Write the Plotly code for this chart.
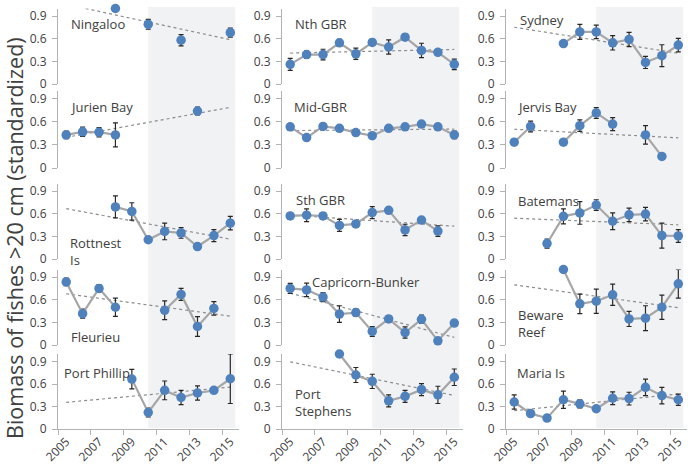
import numpy as np
import plotly.graph_objects as go

N = None
years = list(range(2005, 2016))
x_tick_labels = ["2005", "2007", "2009", "2011", "2013", "2015"]
y_tick_vals = [0, 0.3, 0.6, 0.9]
y_tick_labels = ["0", "0.3", "0.6", "0.9"]
y_title = "Biomass of fishes >20 cm (standardized)"
shade_start, shade_end = 2010, 2015.3

# ---- data (2005..2015), column by column ----
ningaloo = [N, N, N, 1.00, N, 0.79, N, 0.58, N, N, 0.68]
ningaloo_err = [0, 0, 0, 0, 0, 0.065, 0, 0.075, 0, 0, 0.06]
jurien = [0.43, 0.47, 0.465, 0.43, N, N, N, N, 0.74, N, N]
jurien_err = [0.05, 0.06, 0.06, 0.155, 0, 0, 0, 0, 0.05, 0, 0]
rottnest = [N, N, N, 0.69, 0.63, 0.255, 0.365, 0.345, 0.165, 0.31, 0.475]
rottnest_err = [0, 0, 0, 0.145, 0.115, 0.02, 0.11, 0.07, 0, 0.08, 0.09]
fleurieu = [0.835, 0.415, 0.75, 0.50, N, N, 0.46, 0.67, 0.245, 0.485, N]
fleurieu_err = [0.05, 0.06, 0.05, 0.12, 0, 0, 0.125, 0.08, 0.13, 0.09, 0]
port_phillip = [N, N, N, N, 0.665, 0.22, 0.515, 0.42, 0.48, 0.515, 0.67]
port_phillip_err = [0, 0, 0, 0, 0.13, 0.06, 0.125, 0.095, 0.095, 0, 0.33]

nth_gbr = [0.26, 0.39, 0.39, 0.545, 0.40, 0.55, 0.49, 0.62, 0.445, 0.42, 0.26]
nth_gbr_err = [0.08, 0.05, 0.07, 0.045, 0.075, 0.04, 0.095, 0.04, 0.095, 0.03, 0.07]
mid_gbr = [0.535, 0.395, 0.54, 0.515, 0.46, 0.42, 0.515, 0.535, 0.57, 0.535, 0.43]
mid_gbr_err = [0.035, 0.03, 0.03, 0.035, 0.03, 0.04, 0.03, 0.035, 0.035, 0.035, 0.05]
sth_gbr = [0.57, 0.58, 0.57, 0.445, 0.465, 0.615, 0.645, 0.385, 0.515, 0.37, N]
sth_gbr_err = [0.02, 0.085, 0.02, 0.08, 0.03, 0.08, 0.02, 0.075, 0.02, 0.07, 0]
capricorn = [0.75, 0.73, 0.635, 0.41, 0.43, 0.18, 0.345, 0.165, 0.34, 0.055, 0.29]
capricorn_err = [0.065, 0.09, 0.06, 0.11, 0.05, 0.065, 0.035, 0.075, 0.055, 0, 0.045]
port_stephens = [N, N, N, 1.00, 0.72, 0.635, 0.375, 0.435, 0.525, 0.455, 0.69]
port_stephens_err = [0, 0, 0, 0, 0.1, 0.095, 0.08, 0.08, 0.08, 0.115, 0.11]

sydney = [N, N, N, 0.535, 0.69, 0.69, 0.545, 0.59, 0.285, 0.375, 0.515]
sydney_err = [0, 0, 0, 0.02, 0.1, 0.09, 0.095, 0.095, 0.08, 0.145, 0.09]
jervis = [0.335, 0.54, N, 0.335, 0.55, 0.715, 0.57, N, 0.43, 0.15, N]
jervis_err = [0.04, 0.07, 0, 0.04, 0.075, 0.07, 0.085, 0, 0.12, 0, 0]
batemans = [N, N, 0.205, 0.565, 0.61, 0.715, 0.50, 0.585, 0.595, 0.31, 0.305]
batemans_err = [0, 0, 0.06, 0.1, 0.15, 0.07, 0.11, 0.09, 0.09, 0.165, 0.085]
beware = [N, N, N, 1.00, 0.545, 0.58, 0.665, 0.345, 0.355, 0.50, 0.81]
beware_err = [0, 0, 0, 0, 0.13, 0.16, 0.14, 0.10, 0.165, 0.16, 0.19]
maria = [0.36, 0.205, 0.145, 0.39, 0.335, 0.27, 0.41, 0.405, 0.555, 0.445, 0.39]
maria_err = [0.095, 0.03, 0, 0.115, 0.055, 0, 0.085, 0.085, 0.11, 0.11, 0.075]

# panels in row-major order: (label, values, errors)
panels = [
    ("Ningaloo", ningaloo, ningaloo_err), ("Nth GBR", nth_gbr, nth_gbr_err), ("Sydney", sydney, sydney_err),
    ("Jurien Bay", jurien, jurien_err), ("Mid-GBR", mid_gbr, mid_gbr_err), ("Jervis Bay", jervis, jervis_err),
    ("Rottnest<br>Is", rottnest, rottnest_err), ("Sth GBR", sth_gbr, sth_gbr_err), ("Batemans", batemans, batemans_err),
    ("Fleurieu", fleurieu, fleurieu_err), ("Capricorn-Bunker", capricorn, capricorn_err), ("Beware<br>Reef", beware, beware_err),
    ("Port Phillip", port_phillip, port_phillip_err), ("Port<br>Stephens", port_stephens, port_stephens_err), ("Maria Is", maria, maria_err),
]

# ---- layout geometry (pixels) ----
W, H = 688, 469
col_px = [(58, 238.5), (282, 462.5), (506, 686.5)]
row_px = [(8.5, 84), (91, 168), (183.5, 259), (269.5, 345), (354, 429)]  # (top=1.0, bottom=0)
label_px = [  # left x, centre y of panel labels
    (69, 24), (293, 24), (518, 20),
    (68, 107), (292, 107), (515, 107),
    (68, 251), (294, 200), (516, 201),
    (69, 337), (310, 282), (516, 323),
    (62, 373), (293, 402), (515, 373),
]

BLUE = "#4f81bd"
LINE = "#a6a6a6"
AXIS = "#b3b3b3"
TXT = "#404040"
FONT = "Open Sans"


def clipped_trend(vals):
    xs = np.array([y for y, v in zip(years, vals) if v is not None], float)
    ys = np.array([v for v in vals if v is not None], float)
    m, b = np.polyfit(xs, ys, 1)
    lo, hi = float(years[0]), float(years[-1])
    if abs(m) > 1e-12:
        xa, xb = (0 - b) / m, (1 - b) / m
        lo, hi = max(lo, min(xa, xb)), min(hi, max(xa, xb))
    return [lo, hi], [m * lo + b, m * hi + b]


fig = go.Figure()
layout = dict(
    width=W, height=H, autosize=False, margin=dict(l=0, r=0, t=0, b=0, pad=0, autoexpand=False),
    paper_bgcolor="white", plot_bgcolor="rgba(0,0,0,0)",
    showlegend=False, font=dict(family=FONT, color=TXT), hovermode=False,
    annotations=[], shapes=[],
)

for i, (name, vals, errs) in enumerate(panels):
    r, c = divmod(i, 3)
    k = i + 1
    xs_name = "x" if k == 1 else f"x{k}"
    ys_name = "y" if k == 1 else f"y{k}"
    tx, ty = clipped_trend(vals)
    fig.add_trace(go.Scatter(
        x=tx, y=ty, mode="lines", xaxis=xs_name, yaxis=ys_name,
        line=dict(color="#8c8c8c", width=1.2, dash="dot"), hoverinfo="skip"))
    fig.add_trace(go.Scatter(
        x=years, y=vals, mode="lines+markers", xaxis=xs_name, yaxis=ys_name,
        connectgaps=False, cliponaxis=False,
        line=dict(color=LINE, width=2.2),
        marker=dict(color=BLUE, size=9.5),
        error_y=dict(type="data", array=errs, symmetric=True, color="#262626", thickness=1.2, width=2.5),
        name=name))

    x0, x1 = col_px[c]
    top, bot = row_px[r]
    bottom_row = r == 4
    layout["xaxis" if k == 1 else f"xaxis{k}"] = dict(
        domain=[x0 / W, x1 / W], anchor=ys_name, range=[2004.5, 2015.5], automargin=False,
        showgrid=False, zeroline=False, fixedrange=True,
        showline=bottom_row, linecolor=AXIS, linewidth=1,
        tickmode="array", tickvals=[int(t) for t in x_tick_labels], ticktext=x_tick_labels,
        showticklabels=bottom_row, ticks="", tickangle=-45,
        tickfont=dict(size=12, color=TXT, family=FONT),
        minor=dict(ticks="outside" if bottom_row else "", tick0=2004.5, dtick=2,
                   ticklen=5, tickcolor=AXIS, showgrid=False),
    )
    layout["yaxis" if k == 1 else f"yaxis{k}"] = dict(
        domain=[1 - bot / H, 1 - top / H], anchor=xs_name, range=[0, 1], automargin=False,
        showgrid=False, zeroline=False, showline=True, linecolor=AXIS, linewidth=1, fixedrange=True,
        tickmode="array", tickvals=y_tick_vals, ticktext=y_tick_labels,
        ticks="outside", ticklen=5, tickcolor=AXIS, ticklabelstandoff=3,
        tickfont=dict(size=12, color=TXT, family=FONT),
    )
    lx, ly = label_px[i]
    layout["annotations"].append(dict(
        text=name, x=lx / W, y=1 - ly / H, xref="paper", yref="paper",
        xanchor="left", yanchor="middle", align="left", showarrow=False,
        font=dict(size=13, color=TXT, family=FONT)))

# shaded period per column
for c in range(3):
    k = 12 + c + 1
    layout["shapes"].append(dict(
        type="rect", xref=f"x{k}", yref="paper",
        x0=shade_start, x1=shade_end, y0=1 - 428 / H, y1=1 - 7 / H,
        fillcolor="#f1f2f3", line=dict(width=0), layer="below"))

layout["annotations"].append(dict(
    text=y_title, x=14 / W, y=1 - 238 / H, xref="paper", yref="paper",
    xanchor="center", yanchor="middle", textangle=-90, showarrow=False,
    font=dict(size=21.5, color=TXT, family=FONT)))

fig.update_layout(**layout)
fig.write_html(
    "out.html",
    config={"responsive": False, "displayModeBar": False, "staticPlot": True},
    post_script="document.body.style.margin='0';document.body.style.padding='0';document.body.style.overflow='hidden';",
)
